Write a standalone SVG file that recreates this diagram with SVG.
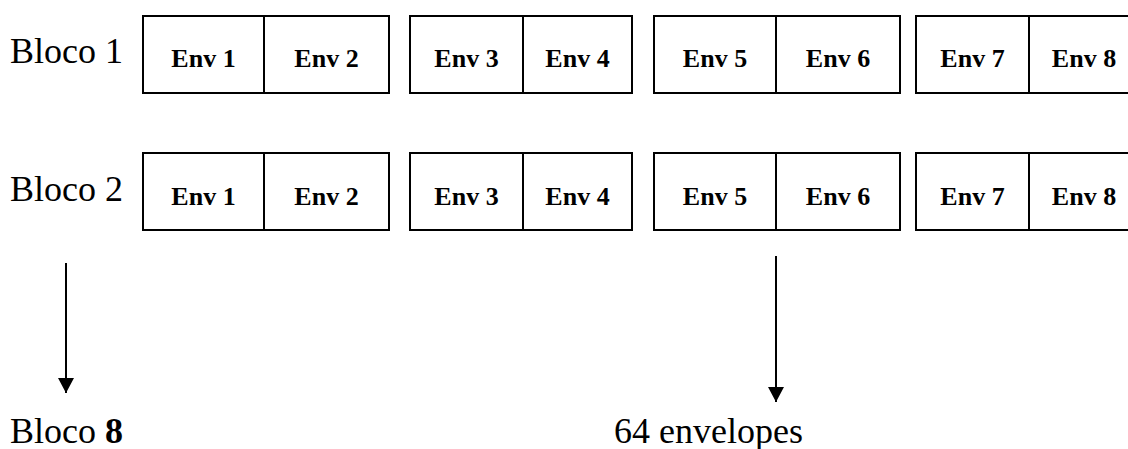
<svg xmlns="http://www.w3.org/2000/svg" width="1128" height="449" viewBox="0 0 1128 449">
  <defs>
    <style>
      .box { fill: #fff; stroke: #000; stroke-width: 2; }
      .div { stroke: #000; stroke-width: 2; }
      .env { font-family: "Liberation Serif", "Times New Roman", serif; font-size: 26px; font-weight: bold; text-anchor: middle; fill: #000; }
      .lbl { font-family: "Liberation Serif", "Times New Roman", serif; font-size: 36px; fill: #000; }
      .wire { stroke: #000; stroke-width: 2; fill: none; }
    </style>
    <!-- filled triangular arrowhead, drawn along +x so orient="auto" follows the line -->
    <marker id="head" viewBox="0 0 15 16" refX="15" refY="8" markerWidth="15" markerHeight="16" markerUnits="userSpaceOnUse" orient="auto">
      <path d="M0 0 L15 8 L0 16 Z" fill="#000"/>
    </marker>
  </defs>
  <rect width="1128" height="449" fill="#fff"/>

  <!-- Row 1 -->
  <g id="row1">
    <text class="lbl" x="10" y="63">Bloco 1</text>
    <g id="r1-pair1">
      <rect class="box" x="143" y="16" width="246" height="77"/>
      <line class="div" x1="264" y1="16" x2="264" y2="93"/>
      <text class="env" x="203.5" y="67">Env 1</text>
      <text class="env" x="326.5" y="67">Env 2</text>
    </g>
    <g id="r1-pair2">
      <rect class="box" x="410" y="16" width="222" height="77"/>
      <line class="div" x1="523" y1="16" x2="523" y2="93"/>
      <text class="env" x="466.5" y="67">Env 3</text>
      <text class="env" x="577.5" y="67">Env 4</text>
    </g>
    <g id="r1-pair3">
      <rect class="box" x="654" y="16" width="246" height="77"/>
      <line class="div" x1="776" y1="16" x2="776" y2="93"/>
      <text class="env" x="715" y="67">Env 5</text>
      <text class="env" x="838" y="67">Env 6</text>
    </g>
    <g id="r1-pair4">
      <rect class="box" x="916" y="16" width="224" height="77"/>
      <line class="div" x1="1029" y1="16" x2="1029" y2="93"/>
      <text class="env" x="972.5" y="67">Env 7</text>
      <text class="env" x="1084" y="67">Env 8</text>
    </g>
  </g>

  <!-- Row 2 -->
  <g id="row2">
    <text class="lbl" x="10" y="201">Bloco 2</text>
    <g id="r2-pair1">
      <rect class="box" x="143" y="153" width="246" height="77"/>
      <line class="div" x1="264" y1="153" x2="264" y2="230"/>
      <text class="env" x="203.5" y="205">Env 1</text>
      <text class="env" x="326.5" y="205">Env 2</text>
    </g>
    <g id="r2-pair2">
      <rect class="box" x="410" y="153" width="222" height="77"/>
      <line class="div" x1="523" y1="153" x2="523" y2="230"/>
      <text class="env" x="466.5" y="205">Env 3</text>
      <text class="env" x="577.5" y="205">Env 4</text>
    </g>
    <g id="r2-pair3">
      <rect class="box" x="654" y="153" width="246" height="77"/>
      <line class="div" x1="776" y1="153" x2="776" y2="230"/>
      <text class="env" x="715" y="205">Env 5</text>
      <text class="env" x="838" y="205">Env 6</text>
    </g>
    <g id="r2-pair4">
      <rect class="box" x="916" y="153" width="224" height="77"/>
      <line class="div" x1="1029" y1="153" x2="1029" y2="230"/>
      <text class="env" x="972.5" y="205">Env 7</text>
      <text class="env" x="1084" y="205">Env 8</text>
    </g>
  </g>

  <!-- Arrows -->
  <g id="connectors">
    <line class="wire" x1="66" y1="263" x2="66" y2="393" marker-end="url(#head)"/>
    <line class="wire" x1="776" y1="256" x2="776" y2="402" marker-end="url(#head)"/>
  </g>

  <g id="total-blocks">
    <text class="lbl" x="10" y="443">Bloco <tspan font-weight="bold">8</tspan></text>
  </g>
  <g id="total-envelopes">
    <text class="lbl" x="614" y="443">64 envelopes</text>
  </g>
</svg>
